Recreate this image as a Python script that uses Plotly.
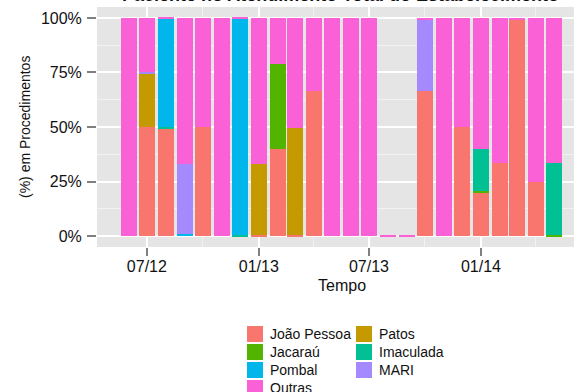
import plotly.graph_objects as go

# months (bars are placed on the first day of each month)
meses = ['2012-06-01', '2012-07-01', '2012-08-01', '2012-09-01', '2012-10-01', '2012-11-01',
         '2012-12-01', '2013-01-01', '2013-02-01', '2013-03-01', '2013-04-01', '2013-05-01',
         '2013-06-01', '2013-07-01', '2013-08-01', '2013-09-01', '2013-10-01', '2013-11-01',
         '2013-12-01', '2014-01-01', '2014-02-01', '2014-03-01', '2014-04-01', '2014-05-01']

# (%) em procedimentos
joao_pessoa = [0, 50, 49.5, 0, 50, 0, 0, 0.5, 40, 0.5, 66.7, 0, 0, 0, 0, 0, 66.7, 0, 50, 20, 33.3, 99, 25, 0]
jacarau     = [0, 0, 0, 0, 0, 0, 0, 0, 39, 0, 0, 0, 0, 0, 0, 0, 0, 0, 0, 0.7, 0, 0, 0, 0.6]
patos       = [0, 24.5, 0, 0, 0, 0, 0, 32.5, 0, 49, 0, 0, 0, 0, 0, 0, 0, 0, 0, 0, 0, 0, 0, 0]
imaculada   = [0, 0, 0.5, 0, 0, 0, 0.5, 0, 0, 0, 0, 0, 0, 0, 0, 0, 0, 0, 0, 19.1, 0, 0, 0, 32.7]
pombal      = [0, 0, 49.5, 1, 0, 0, 99, 0, 0, 0, 0, 0, 0, 0, 0, 0, 0, 0, 0, 0, 0, 0, 0, 0]
mari        = [0, 0.5, 0, 32, 0, 0, 0, 0, 0, 0, 0, 0, 0, 0, 0, 0, 32.5, 0, 0, 0, 0, 0, 0, 0]
outras      = [100, 25, 0.5, 67, 50, 100, 0.5, 67, 21, 50.5, 33.3, 100, 100, 100, 0.6, 0.6, 0.8, 100, 50, 60.2, 66.7, 1, 75, 66.7]

yticks = [0, 25, 50, 75, 100]
yticklabels = ['0%', '25%', '50%', '75%', '100%']

# stacking order (bottom -> top) and colour
series = [
    ('João Pessoa', joao_pessoa, '#F8766D'),
    ('Jacaraú', jacarau, '#53B400'),
    ('Patos', patos, '#C49A00'),
    ('Imaculada', imaculada, '#00C094'),
    ('Pombal', pombal, '#00B6EB'),
    ('MARI', mari, '#A58AFF'),
    ('Outras', outras, '#FB61D7'),
]
# legend laid out in two columns like the original
legenda_col1 = ['João Pessoa', 'Jacaraú', 'Pombal', 'Outras']
legenda_col2 = ['Patos', 'Imaculada', 'MARI']

FONT = 'Liberation Sans, Arial, sans-serif'
W, H = 574, 392
L, R, T, B = 97, 0, 7, 145
largura = 26 * 24 * 3600 * 1000  # bar width in ms

fig = go.Figure()
for nome, vals, cor in series:
    fig.add_trace(go.Bar(x=meses, y=vals, name=nome, marker=dict(color=cor, line=dict(width=0)),
                         width=largura, showlegend=False))

fig.update_layout(
    width=W, height=H,
    margin=dict(l=L, r=R, t=T, b=B),
    paper_bgcolor='white', plot_bgcolor='#E5E5E5',
    barmode='stack', bargap=0, showlegend=False,
    font=dict(family=FONT, size=14, color='#111'),
)

fig.update_xaxes(
    type='date', range=['2012-04-10', '2014-06-03'],
    tick0='2012-07-01', dtick='M6', tickformat='%m/%y',
    showgrid=True, gridcolor='white', gridwidth=1.5,
    ticks='outside', ticklen=8, tickwidth=1.5, tickcolor='#7F7F7F',
    tickfont=dict(size=16, color='#111'), ticklabelstandoff=-3,
    minor=dict(dtick='M3', showgrid=True, gridcolor='#F2F2F2', gridwidth=1),
    zeroline=False, showline=False,
)
fig.update_yaxes(
    range=[-5, 105], tickmode='array', tickvals=yticks, ticktext=yticklabels,
    showgrid=True, gridcolor='white', gridwidth=1.5,
    ticks='outside', ticklen=9, tickwidth=1.5, tickcolor='#7F7F7F',
    tickfont=dict(size=16, color='#111'), ticklabelstandoff=2,
    minor=dict(tickvals=[12.5, 37.5, 62.5, 87.5], showgrid=True, gridcolor='#F2F2F2', gridwidth=1),
    zeroline=False, showline=False,
)

# pixel -> paper helpers (for titles and legend only)
pw, ph = W - L - R, H - T - B
def px(x):
    return (x - L) / pw
def py(y):
    return (H - B - y) / ph

# titles
fig.add_annotation(text='<b>Paciente no Atendimento Total do Estabelecimento</b>', xref='paper', yref='paper',
                   x=px(340), y=1.0, xanchor='center', yanchor='bottom', showarrow=False,
                   font=dict(size=18, family=FONT, color='#111'))
fig.add_annotation(text='Tempo', xref='paper', yref='paper', x=px(342), y=py(285),
                   xanchor='center', yanchor='middle', showarrow=False,
                   font=dict(size=16, family=FONT, color='#111'))
fig.add_annotation(text='(%) em Procedimentos', xref='paper', yref='paper', x=px(25), y=0.5,
                   xanchor='center', yanchor='middle', textangle=-90, showarrow=False,
                   font=dict(size=14, family=FONT, color='#111'))

# legend (two columns)
cores = {s[0]: s[2] for s in series}
for col_x, nomes in [(247, legenda_col1), (356, legenda_col2)]:
    for i, nome in enumerate(nomes):
        cy = 334 + 18 * i
        fig.add_shape(type='rect', xref='paper', yref='paper',
                      x0=px(col_x), x1=px(col_x + 16), y0=py(cy + 8), y1=py(cy - 8),
                      fillcolor=cores[nome], line=dict(width=0))
        fig.add_annotation(text=nome, xref='paper', yref='paper', x=px(col_x + 21), y=py(cy),
                           xanchor='left', yanchor='middle', showarrow=False,
                           font=dict(size=14, family=FONT, color='#111'))

# page has a default 8px body margin; drop it so the figure sits at the window's corner
fig.write_html("out.html", config={'displayModeBar': False},
               post_script="document.body.style.margin='0';")
